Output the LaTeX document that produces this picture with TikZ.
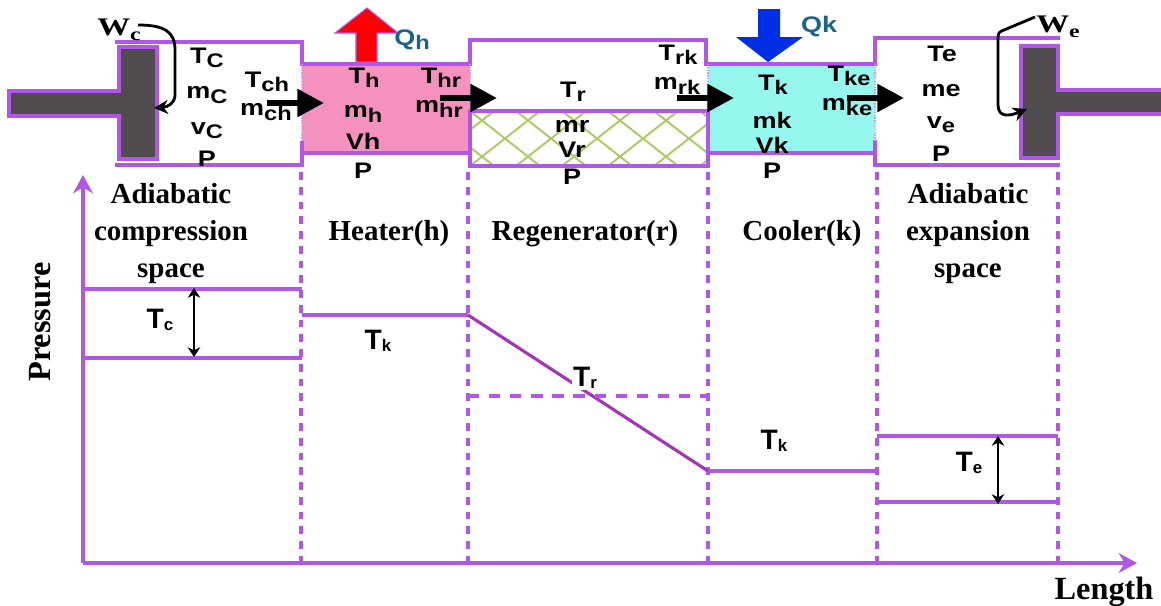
\documentclass[tikz,border=0pt]{standalone}
\usepackage{fontspec}
\setmainfont{Liberation Serif}
\newfontfamily\labfont[FakeStretch=1.2]{Liberation Sans}
\newfontfamily\workfont[FakeStretch=1.3]{Liberation Serif}
\newfontfamily\plotfont{Liberation Sans}
\usetikzlibrary{arrows.meta}
\definecolor{wall}{RGB}{178,85,235}
\definecolor{slopeline}{RGB}{165,50,185}
\definecolor{pistongray}{RGB}{80,75,77}
\definecolor{heaterpink}{RGB}{245,145,190}
\definecolor{coolercyan}{RGB}{150,247,238}
\definecolor{meshgreen}{RGB}{170,205,95}
\definecolor{qtext}{RGB}{25,100,135}
\newcommand{\lab}[2]{#1\raisebox{-.35ex}{\fontsize{14}{14}\selectfont #2}}
\newcommand{\plab}[2]{#1\raisebox{-.1ex}{\fontsize{12}{12}\selectfont #2}}
\tikzset{
  wallline/.style={wall, line width=2.2pt},
  cutline/.style={wall, line width=2.4pt, dash pattern=on 5.5pt off 5pt},
  seamline/.style={wall!60, line width=1pt, densely dotted},
  piston/.style={fill=pistongray, draw=wall, line width=2.2pt},
  cell/.style={font=\labfont\bfseries\fontsize{16}{18}\selectfont, inner sep=0pt},
  zone/.style={font=\bfseries\fontsize{20.6}{26.3}\selectfont, align=center, inner sep=0pt},
  worklab/.style={font=\workfont\bfseries\fontsize{18}{18}\selectfont, inner sep=0pt},
  flow/.style={-{Triangle[length=19pt,width=19pt]}, line width=4.5pt, black},
  plotlab/.style={font=\plotfont\bfseries\fontsize{20}{20}\selectfont, inner sep=0pt},
  axisline/.style={wall, line width=2.6pt, -{Stealth[length=13pt,width=14pt]}},
  workline/.style={-{Stealth[length=10pt,width=10pt]}, line width=2pt},
  spanline/.style={{Stealth[length=7pt,width=9pt]}-{Stealth[length=7pt,width=9pt]}, line width=1pt},
}
\begin{document}
\begin{tikzpicture}[x=.025cm, y=-.025cm]
\useasboundingbox (0,0) rectangle (1161,605);
% filled cells
\fill[heaterpink](302,64) rectangle (470,153);
\fill[coolercyan](708,64) rectangle (875,153);
\begin{scope}
\clip (470,111) rectangle (707,166);
\foreach \i in {-2,...,7}{
\draw[meshgreen, line width=1.4pt](470+\i*46,111)--(470+\i*46+70,166);
\draw[meshgreen, line width=1.4pt](470+\i*46+70,111)--(470+\i*46,166);
}
\end{scope}
% cylinder walls
\draw[wallline](115,42)--(302,42)--(302,64)--(470,64)--(470,40)--(706,40)--(706,64)--(875,64)--(875,38)--(1060,38);
\draw[wallline](115,165)--(302,165)--(302,141);
\draw[wallline](302,153)--(470,153);
\draw[wallline](470,111)--(470,166)--(708,166)--(708,111)--cycle;
\draw[wallline](708,153)--(875,153);
\draw[wallline](875,140)--(875,165)--(1060,165);
\draw[seamline](302,64)--(302,141);
\draw[seamline](470,64)--(470,111);
\draw[seamline](708,64)--(708,111);
\draw[seamline](875,64)--(875,140);
% pistons
\draw[piston](9,91)--(119,91)--(119,47)--(157,47)--(157,159)--(119,159)--(119,116)--(9,116)--cycle;
\draw[piston](1163,90)--(1058,90)--(1058,46)--(1021,46)--(1021,158)--(1058,158)--(1058,114)--(1163,114);
% heat arrows
\draw[fill=red, draw=wall, line width=.8pt](356,62)--(356,33)--(335,33)--(367,8)--(398,33)--(377,33)--(377,62)--cycle;
\draw[fill=blue!80!cyan!90!black, draw=none](758,9)--(780,9)--(780,37)--(803,37)--(768,62)--(736,37)--(758,37)--cycle;
\node[cell, text=qtext](Qh) at (412,40) {\lab{Q}{h}};
\node[cell, text=qtext](Qk) at (819,27) {Qk};
% flow arrows
\coordinate (f1a) at (267,103); \coordinate (f1b) at (324,103);
\coordinate (f2a) at (440,98); \coordinate (f2b) at (497,98);
\coordinate (f3a) at (677,98); \coordinate (f3b) at (734,98);
\coordinate (f4a) at (847,98); \coordinate (f4b) at (904,98);
\draw[flow](f1a)--(f1b);
\draw[flow](f2a)--(f2b);
\draw[flow](f3a)--(f3b);
\draw[flow](f4a)--(f4b);
% cell labels
\node[cell](Tc) at (207,58) {\lab{T}{C}};
\node[cell](mc) at (207,95) {\lab{m}{C}};
\node[cell](vc) at (207,131) {\lab{v}{C}};
\node[cell](Pc) at (207,159) {P};
\node[cell](Tch) at (267,82) {\lab{T}{ch}};
\node[cell](mch) at (266,112) {\lab{m}{ch}};
\node[cell](Th) at (364,78) {\lab{T}{h}};
\node[cell](mh) at (363,114) {\lab{m}{h}};
\node[cell](Vh) at (363,141) {Vh};
\node[cell](Ph) at (363,171) {P};
\node[cell](Thr) at (441,78) {\lab{T}{hr}};
\node[cell](mhr) at (439,109) {\lab{m}{hr}};
\node[cell](Tr) at (573,92) {\lab{T}{r}};
\node[cell](mr) at (572,126) {mr};
\node[cell](Vr) at (572,150) {Vr};
\node[cell](Pr) at (572,177) {P};
\node[cell](Trk) at (678,55) {\lab{T}{rk}};
\node[cell](mrk) at (677,86) {\lab{m}{rk}};
\node[cell](Tk) at (773,85) {\lab{T}{k}};
\node[cell](mk) at (772,120) {mk};
\node[cell](Vk) at (772,145) {Vk};
\node[cell](Pk) at (772,171) {P};
\node[cell](Tke) at (849,76) {\lab{T}{ke}};
\node[cell](mke) at (847,107) {\lab{m}{ke}};
\node[cell](Te) at (942,54) {Te};
\node[cell](me) at (941,91) {me};
\node[cell](ve) at (941,125) {\lab{v}{e}};
\node[cell](Pe) at (941,154) {P};
% work
\node[worklab](Wc) at (119,30) {W\raisebox{-.4ex}{\fontsize{13}{13}\selectfont c}};
\node[worklab](We) at (1058,27) {W\raisebox{-.4ex}{\fontsize{13}{13}\selectfont e}};
\coordinate (wc1) at (138,25); \coordinate (wc2) at (154,108);
\coordinate (we1) at (1035,17); \coordinate (we2) at (1027,109);
\draw[workline](wc1) .. controls (165,25) and (175,32) .. (175,50) -- (175,95) .. controls (175,103) and (168,107) .. (wc2);
\draw[workline](we1) -- (1004,30) .. controls (999,32) and (998,33) .. (998,38) -- (998,105) .. controls (998,118) and (1010,116) .. (we2);
% zone labels
\node[zone](zc) at (171,234) {Adiabatic\\compression\\space};
\node[zone](zh) at (389,234) {Heater(h)};
\node[zone](zr) at (585,234) {Regenerator(r)};
\node[zone](zk) at (802,234) {Cooler(k)};
\node[zone](ze) at (968,234) {Adiabatic\\expansion\\space};
% dashed cuts
\foreach \x in {301,468,708,877,1058}{
\draw[cutline](\x,172)--(\x,563);
}
% axes
\coordinate (O) at (83,563);
\coordinate (ytip) at (83,175);
\coordinate (xtip) at (1137,563);
\draw[axisline](O)--(ytip);
\draw[axisline](O)--(xtip);
\node[font=\bfseries\fontsize{23}{23}\selectfont, rotate=90, inner sep=0pt](Pressure) at (40,322) {Pressure};
\node[font=\bfseries\fontsize{23}{23}\selectfont, inner sep=0pt](Length) at (1104,592) {Length};
% temperature profile
\draw[wallline](83,289)--(302,289);
\draw[wallline](83,358)--(302,358);
\draw[wallline](302,315)--(468,315);
\draw[slopeline, line width=2.2pt](468,315)--(708,471);
\draw[wallline](708,471)--(877,471);
\draw[wallline](877,436)--(1058,436);
\draw[wallline](877,502)--(1058,502);
\coordinate (c1) at (194,288); \coordinate (c2) at (194,357);
\coordinate (e1) at (998,436); \coordinate (e2) at (998,504);
\draw[spanline](c1)--(c2);
\draw[spanline](e1)--(e2);
\node[plotlab](Tcp) at (160,320) {\plab{T}{c}};
\node[plotlab](Tkp) at (378,341) {\plab{T}{k}};
\node[plotlab, fill=white, inner sep=1pt](Trp) at (585,378) {\plab{T}{r}};
\node[plotlab](Tkq) at (774,441) {\plab{T}{k}};
\node[plotlab](Tep) at (969,463) {\plab{T}{e}};
\draw[wall, line width=2.2pt, dash pattern=on 8pt off 7pt](468,396)--(708,396);
\end{tikzpicture}
\end{document}
